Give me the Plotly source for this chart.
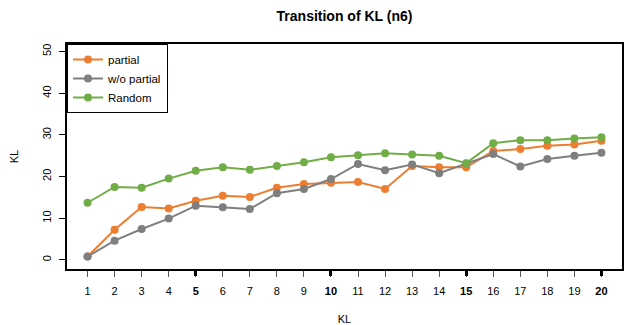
import plotly.graph_objects as go

steps = list(range(1, 21))
tick_labels = [f"<b>{s}</b>" if s % 5 == 0 else str(s) for s in steps]
partial = [0.8, 7.2, 12.7, 12.3, 14.2, 15.4, 15.1, 17.3, 18.2, 18.5,
           18.7, 17.0, 22.5, 22.2, 22.2, 26.1, 26.6, 27.4, 27.7, 28.6]
wo_partial = [0.8, 4.6, 7.4, 9.9, 13.0, 12.6, 12.2, 16.0, 17.0, 19.4,
              23.0, 21.5, 22.9, 20.8, 23.1, 25.4, 22.4, 24.2, 25.0, 25.7]
random_ = [13.7, 17.5, 17.3, 19.5, 21.4, 22.2, 21.6, 22.5, 23.4, 24.6,
           25.1, 25.6, 25.3, 25.0, 23.2, 28.0, 28.7, 28.7, 29.1, 29.4]
y_ticks = [0, 10, 20, 30, 40, 50]

series = [("partial", partial, "#ED7D31"),
          ("w/o partial", wo_partial, "#7F7F7F"),
          ("Random", random_, "#70AD47")]

fig = go.Figure()
for name, vals, col in series:
    fig.add_trace(go.Scatter(x=steps, y=vals, name=name, mode="lines+markers",
                             line=dict(color=col, width=2),
                             marker=dict(color=col, size=8)))

font = "Liberation Sans, Arial, sans-serif"
fig.update_layout(
    width=626, height=325,
    margin=dict(l=67, r=4, t=44, b=56, autoexpand=False),
    paper_bgcolor="white", plot_bgcolor="white",
    font=dict(family=font, size=11, color="black"),
    title=dict(text="<b>Transition of KL (n6)</b>", xref="paper", x=0.5,
               xanchor="center", yref="container", y=0.952, yanchor="middle",
               font=dict(size=14)),
    showlegend=True,
    legend=dict(x=0, y=1, xanchor="left", yanchor="top",
                bordercolor="black", borderwidth=1, bgcolor="white",
                font=dict(size=11.5), tracegroupgap=0, itemwidth=30,
                traceorder="normal"),
    xaxis=dict(range=[0.24, 20.76], tickvals=steps, ticktext=tick_labels,
               ticks="outside", ticklen=6, tickcolor="#555", tickwidth=1,
               ticklabelstandoff=5,
               showline=True, linecolor="black", linewidth=1.5, mirror=True,
               showgrid=False, zeroline=False, automargin=False,
               title=dict(text="KL", standoff=20, font=dict(size=11))),
    yaxis=dict(range=[-2.2, 51.8], tickvals=y_ticks, tickangle=-90,
               ticks="outside", ticklen=6, tickcolor="black",
               ticklabelstandoff=4,
               showline=True, linecolor="black", linewidth=1.5, mirror=True,
               showgrid=False, zeroline=False, automargin=False,
               title=dict(text="KL", standoff=20, font=dict(size=11))),
    xaxis2=dict(overlaying="x", range=[0.24, 20.76], tickvals=[5, 10, 15, 20],
                showticklabels=False, ticks="outside", ticklen=6,
                tickwidth=2.5, tickcolor="black", side="bottom",
                showgrid=False, zeroline=False, showline=False,
                automargin=False),
)
fig.add_trace(go.Scatter(x=[5, 10, 15, 20], y=[None] * 4, xaxis="x2",
                         showlegend=False, hoverinfo="skip"))
fig.write_html("out.html", config={"displayModeBar": False},
               post_script="document.body.style.margin='0';")
